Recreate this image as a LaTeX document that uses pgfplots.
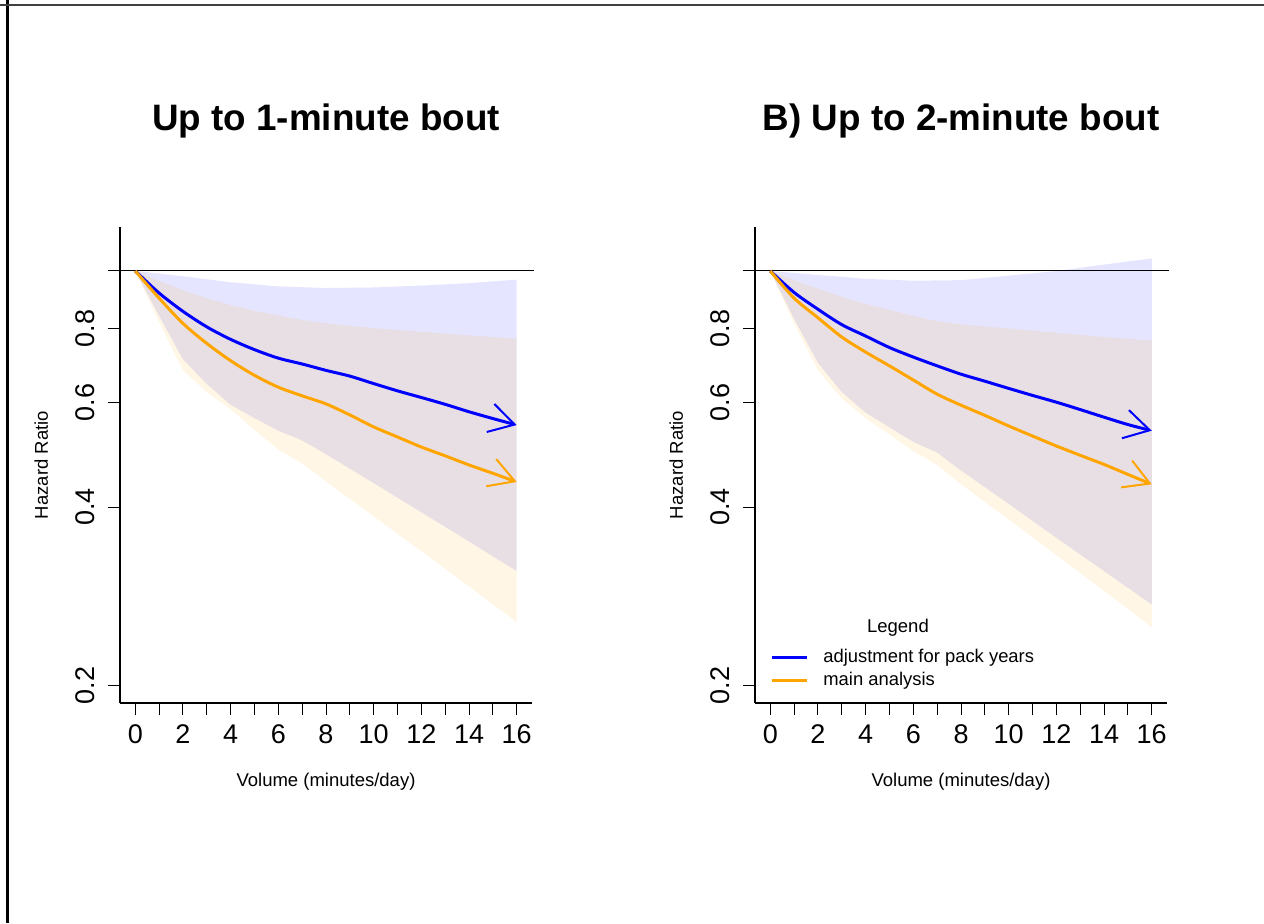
\documentclass[border=0pt]{standalone}
\usepackage{fontspec}
\setmainfont{Liberation Sans}
\usepackage{pgfplots}
\usepackage{pgfplotstable}
\pgfplotsset{compat=1.18}
\usetikzlibrary{arrows.meta}

\definecolor{rblue}{RGB}{0,0,255}
\definecolor{rorange}{RGB}{255,165,0}

% curves: x, adjusted (blue), main (orange)
\pgfplotstableread{
x  blue  orange
0  1.000 1.000
1  0.918 0.900
2  0.855 0.816
3  0.805 0.755
4  0.767 0.706
5  0.737 0.667
6  0.713 0.637
7  0.697 0.616
8  0.680 0.597
9  0.665 0.572
10 0.646 0.546
11 0.628 0.525
12 0.612 0.505
13 0.596 0.488
14 0.579 0.471
15 0.564 0.456
16 0.550 0.441
}\curvesA
\pgfplotstableread{
x  blue  orange
0  1.000 1.000
1  0.920 0.900
2  0.862 0.834
3  0.812 0.774
4  0.777 0.730
5  0.743 0.692
6  0.716 0.655
7  0.692 0.620
8  0.670 0.594
9  0.652 0.571
10 0.634 0.548
11 0.617 0.527
12 0.601 0.507
13 0.584 0.489
14 0.567 0.472
15 0.551 0.454
16 0.538 0.437
}\curvesB

% confidence bands as closed outlines: upper bound left to right, lower bound back
\pgfplotstableread{
x y
0 1.000
2 0.980
4 0.957
6 0.942
8 0.936
10 0.938
12 0.945
14 0.954
16 0.967
16 0.312
14 0.350
12 0.392
10 0.439
8 0.491
7 0.518
6 0.538
5 0.565
4 0.595
3 0.645
2 0.710
1 0.840
0 1.000
}\bandBlueA
\pgfplotstableread{
x y
0 1.000
1 0.962
2 0.929
3 0.900
4 0.876
5 0.857
6 0.841
7 0.827
8 0.816
10 0.801
12 0.790
14 0.779
16 0.769
16 0.256
14 0.294
12 0.337
10 0.386
8 0.442
7 0.474
6 0.500
5 0.540
4 0.585
3 0.625
2 0.680
1 0.820
0 1.000
}\bandOrangeA
\pgfplotstableread{
x y
0 1.000
2 0.985
4 0.970
6 0.963
8 0.965
10 0.982
12 1.000
14 1.025
16 1.050
16 0.274
14 0.312
12 0.355
10 0.405
8 0.461
7 0.494
6 0.515
5 0.545
4 0.577
3 0.625
2 0.700
1 0.830
0 1.000
}\bandBlueB
\pgfplotstableread{
x y
0 1.000
1 0.965
2 0.934
3 0.905
4 0.880
5 0.860
6 0.840
7 0.823
8 0.813
10 0.800
12 0.787
14 0.774
16 0.763
16 0.251
14 0.289
12 0.332
10 0.381
8 0.437
7 0.471
6 0.497
5 0.530
4 0.565
3 0.610
2 0.680
1 0.815
0 1.000
}\bandOrangeB

\begin{document}
\begin{tikzpicture}
\useasboundingbox (0pt,0pt) rectangle (632pt,-461.5pt);

\begin{axis}[
    at={(60pt,-351.5pt)}, anchor=south west,
    scale only axis, width=206pt, height=238pt,
    xmin=-0.64, xmax=16.64,
    ymode=log, ymin=0.187, ymax=1.186,
    axis x line*=bottom, axis y line*=left,
    axis line style={line width=0.6pt},
    xtick={0,2,...,16}, minor xtick={1,3,...,15},
    ytick={0.2,0.4,0.6,0.8}, yticklabels={0.2,0.4,0.6,0.8},
    tick align=outside, major tick length=6pt, minor tick length=6pt,
    tick style={black, line width=0.5pt},
    tick label style={font=\fontsize{13.5}{15}\selectfont},
    xticklabel style={anchor=north, inner sep=0pt, text height=9.7pt, text depth=0pt},
    yticklabel style={rotate=90, anchor=south, inner sep=0pt},
    xticklabel shift=4.5pt, yticklabel shift=6.5pt,
    title={Up to 1-minute bout},
    title style={font=\bfseries\fontsize{18.4}{22}\selectfont, at={(0.5,1.1786)}, anchor=base},
    xlabel={Volume (minutes/day)},
    xlabel style={font=\fontsize{9.25}{11}\selectfont, at={(0.5,-0.1744)}, anchor=base},
    ylabel={Hazard Ratio},
    ylabel style={font=\fontsize{9.25}{11}\selectfont, at={(-0.1748,0.5)}, anchor=base},
    clip=false,
    /pgf/number format/assume math mode=true,
]
\addplot[fill=rblue, fill opacity=0.1, draw=none, forget plot] table[x=x, y=y]{\bandBlueA};
\addplot[fill=rorange, fill opacity=0.1, draw=none, forget plot] table[x=x, y=y]{\bandOrangeA};
\addplot[black, line width=0.5pt, forget plot] coordinates {(-1.15,1) (16.72,1)};
\addplot[rblue, line width=1.5pt, smooth, tension=0.5, -{Straight Barb[angle=60:14.5pt, line width=1pt]}] table[x=x, y=blue]{\curvesA};
\addplot[rorange, line width=1.5pt, smooth, tension=0.5, -{Straight Barb[angle=60:14.5pt, line width=1pt]}] table[x=x, y=orange]{\curvesA};
\end{axis}

\begin{axis}[
    at={(377.5pt,-351.5pt)}, anchor=south west,
    scale only axis, width=206pt, height=238pt,
    xmin=-0.64, xmax=16.64,
    ymode=log, ymin=0.187, ymax=1.186,
    axis x line*=bottom, axis y line*=left,
    axis line style={line width=0.6pt},
    xtick={0,2,...,16}, minor xtick={1,3,...,15},
    ytick={0.2,0.4,0.6,0.8}, yticklabels={0.2,0.4,0.6,0.8},
    tick align=outside, major tick length=6pt, minor tick length=6pt,
    tick style={black, line width=0.5pt},
    tick label style={font=\fontsize{13.5}{15}\selectfont},
    xticklabel style={anchor=north, inner sep=0pt, text height=9.7pt, text depth=0pt},
    yticklabel style={rotate=90, anchor=south, inner sep=0pt},
    xticklabel shift=4.5pt, yticklabel shift=6.5pt,
    title={B) Up to 2-minute bout},
    title style={font=\bfseries\fontsize{18.4}{22}\selectfont, at={(0.5,1.1786)}, anchor=base},
    xlabel={Volume (minutes/day)},
    xlabel style={font=\fontsize{9.25}{11}\selectfont, at={(0.5,-0.1744)}, anchor=base},
    ylabel={Hazard Ratio},
    ylabel style={font=\fontsize{9.25}{11}\selectfont, at={(-0.1748,0.5)}, anchor=base},
    clip=false,
    legend style={draw=none, fill=none, at={(0.0364,0.1155)}, anchor=north west,
      inner sep=0pt, row sep=2.5pt, font=\fontsize{9.2}{11}\selectfont,
      nodes={inner sep=0pt, text height=7pt, text depth=2pt},
      /tikz/every odd column/.append style={column sep=7.5pt}},
    legend cell align=left,
    legend image code/.code={\draw[#1,-] (0pt,0pt) -- (17.5pt,0pt);},
    /pgf/number format/assume math mode=true,
]
\addplot[fill=rblue, fill opacity=0.1, draw=none, forget plot] table[x=x, y=y]{\bandBlueB};
\addplot[fill=rorange, fill opacity=0.1, draw=none, forget plot] table[x=x, y=y]{\bandOrangeB};
\addplot[black, line width=0.5pt, forget plot] coordinates {(-1.15,1) (16.72,1)};
\addplot[rblue, line width=1.5pt, smooth, tension=0.5, -{Straight Barb[angle=60:14.5pt, line width=1pt]}] table[x=x, y=blue]{\curvesB};
\addlegendentry{adjustment for pack years}
\addplot[rorange, line width=1.5pt, smooth, tension=0.5, -{Straight Barb[angle=60:14.5pt, line width=1pt]}] table[x=x, y=orange]{\curvesB};
\addlegendentry{main analysis}
\node[font=\fontsize{9.25}{11}\selectfont] at (rel axis cs:0.347,0.1576) {Legend};
\end{axis}

\draw[line width=1.5pt] (3.75pt,0pt) -- (3.75pt,-461.5pt);
\draw[line width=1pt, black!75] (0pt,-2.5pt) -- (632pt,-2.5pt);
\end{tikzpicture}
\end{document}
